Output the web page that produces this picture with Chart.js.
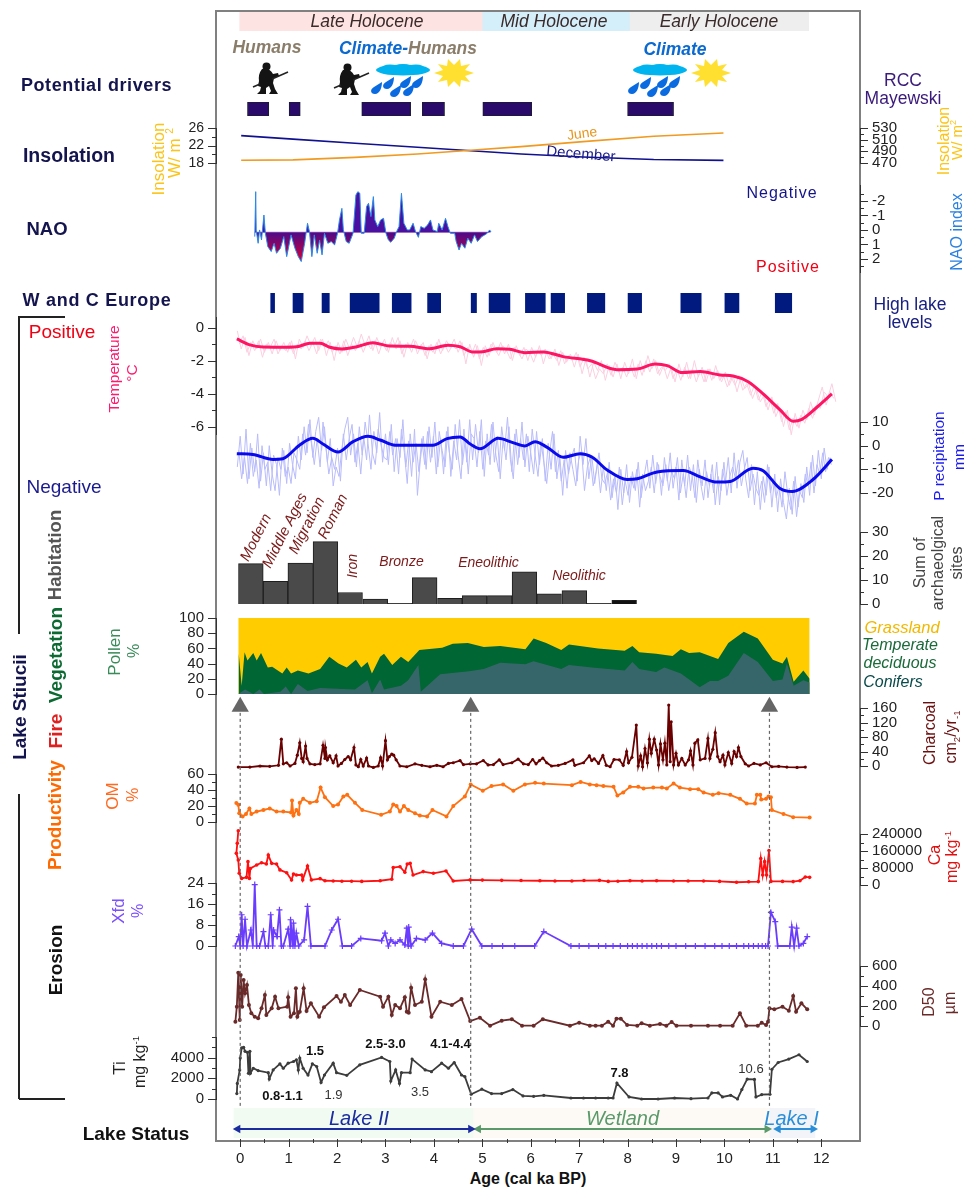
<!DOCTYPE html>
<html>
<head>
<meta charset="utf-8">
<title>Lake Stiucii proxy record</title>
<script src="https://cdn.jsdelivr.net/npm/chart.js@4/dist/chart.umd.min.js"></script>
<style>
  html, body { margin: 0; padding: 0; background: #fff; }
  #page { position: relative; width: 966px; height: 1187px; overflow: hidden; font-family: "Liberation Sans", Arial, sans-serif; }
  #page canvas { position: absolute; left: 0; }
  #frame { position: absolute; left: 215px; top: 10px; width: 642px; height: 1128px; border: 2px solid #808080; }
  .txt { position: absolute; white-space: nowrap; line-height: 1; transform-origin: center; }
  .rule { position: absolute; background: #222; }
  sup { font-size: 60%; line-height: 0; }
</style>
</head>
<body>
<div id="page">
  <div id="frame"></div>
  <div class="rule" style="left:19px;top:316px;width:46px;height:2px"></div>
  <div class="rule" style="left:18px;top:316px;width:2px;height:318px"></div>
  <div class="rule" style="left:18px;top:794px;width:2px;height:305px"></div>
  <div class="rule" style="left:19px;top:1098px;width:46px;height:2px"></div>
  <svg style="position:absolute;left:0;top:0;z-index:3" width="966" height="110">
    <defs>
      <g id="hunter">
        <circle cx="9.5" cy="4.5" r="4" fill="#141414"/>
        <path fill="#141414" d="M5 7 Q1 12 2 19 L1 24 L4 25 L3 29 L0 32 L9 32 L9 26 L12 24 L14 29 L12 32 L21 32 L18 27 L16 21 L17 16 L22 14 L21 11 L16 12 Q13 6 5 7 Z"/>
        <line x1="-4" y1="25" x2="3" y2="22" stroke="#222" stroke-width="1.6"/>
        <line x1="15" y1="17" x2="31" y2="10" stroke="#222" stroke-width="1.6"/>
      </g>
      <path id="drop" fill="#0a6ae0" d="M6 -6 C6 -1 4 6 -1 6 C-6 6 -6 1 -2 -1 Z"/>
      <g id="rain">
        <ellipse cx="0" cy="0" rx="27" ry="5.5" fill="#00b4f0"/>
        <ellipse cx="-13" cy="-1" rx="9" ry="4.5" fill="#00b4f0"/>
        <ellipse cx="0" cy="-1.5" rx="10" ry="4.5" fill="#00b4f0"/>
        <ellipse cx="13" cy="-1" rx="9" ry="4.5" fill="#00b4f0"/>
        <use href="#drop" x="-27" y="18"/><use href="#drop" x="-15" y="13"/><use href="#drop" x="-8" y="21"/>
        <use href="#drop" x="2" y="12"/><use href="#drop" x="5" y="20"/><use href="#drop" x="14" y="12"/>
      </g>
      <polygon id="sun" fill="#ffe030" points="20,0 11,3 16,9 7,7 6,14 0,8 -6,14 -7,7 -16,9 -11,3 -20,0 -11,-3 -16,-9 -7,-7 -6,-14 0,-8 6,-14 7,-7 16,-9 11,-3"/>
    </defs>
    <use href="#hunter" x="257" y="62"/>
    <use href="#hunter" x="338" y="63"/>
    <use href="#rain" x="403" y="70"/>
    <use href="#sun" x="454" y="73"/>
    <use href="#rain" x="660" y="70"/>
    <use href="#sun" x="711" y="73"/>
  </svg>
</div>

<script>
// ---- Holocene periods and event bars (ka BP) ----
const holoceneNames = ['Late Holocene', 'Mid Holocene', 'Early Holocene'];
const holoceneStart = [-0.01, 5.01, 8.05];
const holoceneEnd = [5.01, 8.05, 11.74];
const rccStart = [0.15, 1.01, 2.51, 3.76, 5.01, 8.0];
const rccEnd = [0.59, 1.24, 3.52, 4.22, 6.02, 8.95];
const lakeHighStart = [0.63, 1.09, 1.69, 2.27, 3.14, 3.87, 4.77, 5.14, 5.89, 6.42, 7.17, 8.01, 9.1, 10.01, 11.05];
const lakeHighEnd = [0.71, 1.3, 1.84, 2.87, 3.53, 4.14, 4.88, 5.57, 6.3, 6.7, 7.53, 8.29, 9.52, 10.3, 11.39];
const statusStart = [-0.13, 4.82, 10.94];
const statusEnd = [4.82, 10.94, 11.87];

// ---- Insolation ----
const insolAge = [0.02, 1.09, 2.37, 3.66, 4.69, 5.8, 7.08, 8.54, 9.98];
const decemberVal = [24.25, 23.45, 22.5, 21.6, 20.85, 20.05, 19.37, 18.8, 18.6];
const juneVal = [474.7, 475.4, 479.7, 485.5, 491.4, 498.1, 506.6, 515.8, 521.3];

// ---- NAO ----
const naoAge = [0.3,0.32,0.33,0.37,0.4,0.44,0.49,0.52,0.57,0.64,0.7,0.75,0.83,0.9,0.96,1.05,1.13,1.2,1.26,1.33,1.39,1.43,1.48,1.53,1.59,1.64,1.69,1.74,1.81,1.88,1.95,2.01,2.05,2.1,2.13,2.19,2.25,2.33,2.39,2.43,2.47,2.5,2.56,2.61,2.65,2.7,2.75,2.78,2.84,2.9,2.96,3.01,3.06,3.11,3.18,3.23,3.28,3.33,3.38,3.45,3.5,3.57,3.62,3.68,3.73,3.8,3.87,3.93,3.98,4.07,4.1,4.17,4.24,4.29,4.34,4.43,4.46,4.52,4.57,4.64,4.7,4.77,4.84,4.9,4.99,5.05,5.1,5.15,5.18];
const naoVal = [0.46,-2.64,0,0.92,0,0.69,-1.03,0.23,1.15,1.49,0.92,1.61,1.26,0.46,1.84,0.34,1.26,1.84,2.18,0.92,-0.46,0.11,1.84,0.34,1.61,0.69,1.72,0.23,0.92,0.8,1.03,0.23,-0.69,-1.49,0,0.8,0.92,0.23,-2.41,-2.64,-2.53,0.23,0.23,-1.61,-1.84,-0.92,-2.3,-0.69,-0.23,-0.69,-0.8,0.23,0.69,0.85,0.57,0.11,-0.23,-2.53,-0.46,0,0,-0.46,0.11,0.51,-0.23,-0.11,-0.34,-0.69,0,0.11,-0.46,0,-0.8,-0.23,0.23,0.23,0.8,1.38,0.92,1.26,0.57,0.92,0.34,0.8,0.46,0.34,0.23,0,0.14];
const naoBase = 0.16;

// ---- Temperature and precipitation ----
const tempAge = [-0.07,0.2,0.47,0.82,1.17,1.44,1.65,1.85,2.1,2.41,2.74,3.09,3.5,3.91,4.29,4.54,4.81,5.01,5.3,5.57,5.88,6.26,6.67,7.23,7.78,8.2,8.57,8.82,9.13,9.5,9.91,10.18,10.49,10.8,11.15,11.42,11.6,11.91,12.22];
const tempVal = [-0.69,-1.05,-1.18,-1.19,-1.16,-0.95,-0.95,-1.19,-1.3,-1.16,-0.92,-1.12,-1.13,-1.28,-1.07,-1.16,-1.48,-1.46,-1.28,-1.32,-1.52,-1.48,-1.76,-2.01,-2.55,-2.51,-2.21,-2.31,-2.73,-2.67,-2.87,-2.93,-3.28,-4.02,-4.99,-5.68,-5.56,-4.83,-4.02];
const tempRawStart = -0.06, tempRawStep = 0.08;
const tempRaw = [-0.2,-1.3,-0.6,-1.7,-0.8,-1.3,-0.7,-1.5,-0.9,-1.6,-0.8,-1.4,-0.9,
  -1.5,-0.8,-1.9,-0.7,-1.2,-0.5,-1.1,-0.6,-1.4,-0.7,-1.7,-0.9,
  -2.0,-0.9,-1.5,-0.7,-1.3,-0.6,-1.2,-0.4,-1.1,-0.5,-1.4,-0.6,-1.2,
  -0.7,-1.5,-0.6,-1.3,-0.8,-1.8,-0.9,-1.5,-0.8,-1.3,-0.9,-1.9,
  -1.0,-1.6,-0.7,-1.4,-0.8,-1.2,-0.7,-1.5,-0.9,-2.2,-1.0,-1.8,-1.1,
  -2.3,-1.1,-1.7,-0.9,-1.5,-0.9,-1.6,-1.0,-2.0,-1.1,-1.7,-1.2,
  -2.0,-1.2,-1.8,-1.1,-2.2,-1.4,-1.9,-1.3,-2.3,-1.5,-2.1,-1.6,-2.4,
  -1.6,-2.8,-1.9,-3.0,-2.1,-2.6,-2.0,-3.2,-2.3,-3.0,-2.2,-3.1,
  -2.1,-2.8,-1.9,-3.1,-2.0,-2.7,-1.7,-2.5,-2.0,-2.9,-2.3,-3.1,-2.4,
  -3.3,-2.2,-3.0,-2.1,-3.1,-2.0,-3.0,-2.4,-3.3,-2.5,-3.1,-2.6,
  -3.3,-2.7,-3.5,-2.9,-3.9,-3.0,-3.7,-3.4,-4.3,-3.7,-4.5,-4.1,-5.0,
  -4.2,-5.4,-4.8,-6.0,-5.0,-6.5,-5.2,-6.1,-5.0,-5.6,-4.5,-5.3,
  -4.4,-3.6,-4.7,-3.9,-4.3];
// the raw record is denser than one zigzag, second pass sits between the points above
const tempRawB = [-1.0,-0.5,-1.5,-0.9,-1.4,-0.8,-1.8,-1.0,-1.2,-0.7,-1.6,-1.1,-1.4,
  -0.9,-1.6,-1.0,-1.3,-0.8,-1.4,-0.9,-1.6,-0.7,-1.2,-0.8,-1.5,
  -1.1,-1.6,-0.8,-1.7,-1.0,-1.4,-0.8,-1.5,-0.9,-1.3,-0.8,-1.6,-0.9,
  -1.4,-0.9,-1.2,-0.6,-1.6,-1.0,-1.3,-0.7,-1.6,-1.0,-1.7,-1.1,
  -1.5,-0.9,-1.6,-1.0,-1.5,-1.1,-1.3,-0.8,-1.7,-1.2,-1.6,-1.0,-1.9,
  -1.2,-1.8,-1.0,-1.3,-1.7,-1.1,-1.4,-1.9,-1.2,-1.5,-1.9,-1.3,
  -1.5,-2.1,-1.4,-1.7,-1.3,-1.9,-1.6,-2.0,-1.4,-2.2,-1.7,-2.0,-1.5,
  -2.4,-1.8,-2.5,-2.2,-3.1,-2.5,-2.8,-2.2,-2.9,-2.1,-2.7,-2.4,
  -3.0,-2.3,-3.0,-2.2,-2.9,-2.0,-2.7,-1.9,-2.8,-2.4,-2.6,-2.2,-3.1,
  -2.5,-3.2,-2.4,-3.1,-2.5,-3.3,-2.6,-3.3,-2.5,-3.2,-2.3,-3.2,
  -2.9,-3.6,-3.0,-3.5,-2.9,-3.8,-3.4,-4.1,-3.5,-4.4,-3.9,-4.8,-4.3,
  -5.2,-4.6,-5.7,-5.1,-6.2,-5.5,-6.0,-5.3,-5.8,-4.9,-5.5,-4.7,
  -4.9,-3.9,-4.2,-3.4,-4.5];
const precipAge = [-0.07,0.26,0.68,0.88,1.23,1.5,1.71,2.02,2.33,2.64,2.89,3.2,3.98,4.27,4.54,4.75,4.95,5.33,5.63,5.88,6.09,6.34,6.67,7.02,7.27,7.58,7.99,8.2,8.61,9.15,9.5,9.85,10.12,10.59,10.8,11.15,11.4,11.83,12.22];
const precipVal = [-3.4,-3.7,-5.8,-5.5,0.3,3.1,0.7,-2.7,1.7,4,2.4,0.2,0.2,3,3.7,0.7,-1.3,3.1,1.3,-0.1,1.7,-0.7,-4.9,-3.4,-4.9,-10.3,-14.3,-14,-11.1,-10.5,-13.2,-15.4,-15.1,-9.5,-10.6,-18.1,-19.4,-14.3,-5.8];
const precipRawStart = -0.06, precipRawStep = 0.06;
const precipRaw = [-9,4,-12,7,-14,-1,-11,5,-15,-3,-17,0,-12,
  -19,-5,-10,-2,-16,1,-8,-14,
  4,-6,8,-3,11,-5,6,12,-2,8,
  -7,3,-17,-9,-13,-1,
  7,12,-4,5,-9,8,-4,10,1,-10,6,-3,14,-7,
  5,-8,9,-11,3,-5,11,-9,2,-13,7,-21,-6,4,-10,
  8,-5,10,-9,3,-12,6,-3,-10,9,-4,-14,7,-7,11,
  -6,9,-3,11,-13,5,-8,10,-4,-11,8,-2,12,-6,-14,
  7,-5,10,-9,4,-3,-12,6,-8,3,-15,1,-10,5,-14,
  -4,-21,-2,-12,-5,-1,-15,4,-8,3,-14,-4,-16,-7,-20,
  -9,-19,-7,-22,-12,-27,-10,-20,-8,-24,-11,-19,-7,-22,-13,
  -6,-18,-4,-16,-8,-21,-5,-15,-3,-18,-9,-23,-6,-17,-4,
  -19,-8,-24,-10,-17,-6,-22,-12,-20,-7,-25,-10,-16,-5,-20,
  -3,-18,-7,-2,-14,-22,-8,-25,-11,-27,-13,-21,-9,-26,-12,
  -28,-14,-24,-31,-18,-29,-13,-26,-16,-24,
  -9,-21,-4,-17,-2,-14,-1,-10,-5];
const precipRawB = [-2,-14,-5,-16,1,-13,-6,-18,0,-10,-7,-19,-4,
  -8,-21,-1,-13,-9,-16,-3,-6,
  -10,5,-4,9,1,-8,3,-9,10,-1,
  -12,-5,-10,-1,-15,5,
  -6,3,9,-7,1,-12,4,-6,13,-3,-8,7,0,-5,
  -6,6,-4,3,-12,7,-3,-16,5,-7,1,-11,3,-8,6,
  -7,4,-12,6,-2,-9,8,-13,2,-6,11,-8,3,-12,5,
  3,-9,6,-10,2,-4,9,-7,4,-14,3,-6,8,-11,5,
  -8,3,-6,5,-11,7,-4,-13,2,-7,-16,-3,6,-11,-2,
  -15,-6,-18,-3,-10,-17,-6,-2,-19,-9,-5,-17,-11,-3,-14,
  -16,-11,-23,-14,-20,-9,-25,-15,-21,-13,-18,-10,-26,-12,-19,
  -15,-9,-20,-7,-13,-17,-8,-19,-11,-14,-5,-20,-12,-22,-9,
  -12,-22,-6,-16,-23,-11,-17,-8,-25,-13,-19,-7,-21,-13,-9,
  -14,-6,-17,-10,-5,-19,-12,-18,-21,-15,-24,-8,-20,-14,-22,
  -17,-26,-11,-21,-27,-15,-30,-19,-22,-12,
  -17,-7,-20,-8,-12,-3,-11,-5,-8];

// ---- Archaeological sites ----
const siteAge = [0.22,0.73,1.24,1.76,2.27,2.79,3.3,3.81,4.33,4.84,5.36,5.87,6.38,6.9,7.41,7.93];
const siteVal = [16.8,9.4,17,26,4.8,2,0.3,11,2.4,3.5,3.5,13.4,4.2,5.6,0.3,1.5];

// ---- Pollen ----
const grassAge = [-0.04, 11.76];
const grassVal = [100, 100];
const decidAge = [-0.04,-0.03,0.03,0.09,0.15,0.27,0.34,0.43,0.57,0.66,0.87,0.96,1.05,1.19,1.41,1.65,1.84,2.03,2.2,2.39,2.5,2.63,2.72,2.89,2.97,3.14,3.32,3.47,3.7,4.17,4.39,4.7,5.03,5.37,5.89,6.06,6.32,6.63,6.79,7.39,7.94,8.1,8.24,8.59,8.93,9.1,9.27,9.49,9.87,10.08,10.4,10.69,11,11.2,11.29,11.43,11.63,11.76];
const decidVal = [0,53,11,55,44,54,44,54,35,36,27,35,27,31,27,33,49,40,35,45,35,42,27,49,53,38,49,42,58,61,66,67,62,63,59,73,67,58,65,60,57,63,55,53,50,59,54,55,46,67,82,73,45,40,49,16,31,20];
const coniferAge = [-0.04,0.1,0.27,0.4,0.49,0.83,0.94,1.05,1.19,1.39,1.65,1.99,2.37,2.63,2.72,2.89,2.97,3.32,3.47,3.68,3.73,4.13,4.73,5.03,5.37,5.89,6.06,6.63,6.79,7.26,7.94,8.1,8.24,8.59,8.76,9.1,9.49,9.7,9.87,10.08,10.4,10.69,11,11.2,11.29,11.43,11.63,11.76];
const coniferVal = [0,6,0,6,0,3,10,0,13,4,8,7,6,18,1,19,6,11,18,38,3,26,30,33,41,39,43,33,38,35,31,42,33,29,35,27,9,17,17,24,54,42,17,19,40,11,18,15];

// ---- Charcoal ----
const charcoalAge = [-0.04,0.2,0.41,0.61,0.79,0.85,0.89,0.96,1.03,1.13,1.18,1.23,1.27,1.3,1.35,1.38,1.44,1.54,1.65,1.71,1.75,1.76,1.8,1.85,1.92,1.98,2.02,2.09,2.16,2.23,2.28,2.35,2.39,2.44,2.49,2.54,2.61,2.65,2.75,2.85,2.9,2.94,3,3.04,3.08,3.13,3.17,3.22,3.3,3.44,3.61,3.75,3.92,4.06,4.19,4.3,4.4,4.54,4.61,4.75,4.88,5.02,5.12,5.23,5.35,5.43,5.61,5.74,5.85,5.95,6.04,6.11,6.18,6.25,6.33,6.43,6.57,6.71,6.87,6.91,7.09,7.21,7.26,7.31,7.4,7.49,7.56,7.64,7.72,7.83,7.91,7.98,8.02,8.09,8.18,8.22,8.27,8.31,8.36,8.41,8.45,8.49,8.55,8.6,8.64,8.68,8.73,8.77,8.81,8.85,8.88,8.9,8.95,9,9.05,9.12,9.19,9.26,9.3,9.35,9.39,9.45,9.5,9.6,9.66,9.7,9.76,9.81,9.86,9.91,9.97,10.01,10.08,10.15,10.2,10.25,10.29,10.34,10.43,10.5,10.61,10.74,10.86,10.98,11.12,11.29,11.5,11.67];
const charcoalVal = [-3,-3,0,-1,2,74,6,9,0,7,30,64,21,12,55,21,6,4,6,57,21,51,17,28,9,28,0,7,18,26,17,51,3,-2,18,0,22,0,-4,0,23,0,70,17,26,33,30,17,0,-2,6,2,-2,2,-2,7,9,15,4,6,6,15,3,4,17,4,9,19,6,4,18,6,15,22,9,0,2,7,17,2,9,28,15,20,7,29,2,-2,18,17,2,40,9,24,113,0,28,-2,48,9,74,35,74,44,3,61,17,63,3,168,12,122,3,35,3,21,3,17,42,3,63,72,17,21,76,21,46,92,26,12,30,3,37,7,40,26,51,26,6,0,7,3,9,-2,-1,-3,-4,-3];

// ---- Organic matter ----
const omAge = [-0.08,-0.04,-0.02,0.05,0.12,0.19,0.23,0.34,0.48,0.61,0.75,0.89,1.05,1.07,1.1,1.16,1.21,1.23,1.3,1.44,1.58,1.66,1.75,1.92,2.02,2.13,2.21,2.37,2.52,2.91,3.09,3.16,3.23,3.3,3.38,3.47,3.61,3.71,3.86,3.97,4.26,4.4,4.64,4.76,5.01,5.19,5.43,5.64,5.88,6.09,6.27,6.85,7.03,7.22,7.36,7.5,7.71,7.79,7.91,8.05,8.22,8.33,8.53,8.71,8.81,8.95,9.08,9.29,9.46,9.57,9.76,9.88,10.12,10.32,10.46,10.63,10.67,10.74,10.76,10.86,10.91,10.96,10.98,11.22,11.42,11.76];
const omVal = [23.6,21.6,11,7,10,17,10,13,15,17,13,13,12,27,8,15,10,24,29,24,26,43,31,20,22,32,34,24,15,9,13,22,20,13,20,15,11,8,7,15,7,20,32,47,39,45,47,39,47,49,48,46,50,47,46,45,44,33,37,44,44,42,43,43,42,48,43,41,41,37,34,36,34,29,23,23,34,34,28,29,32,31,15,10,6,5.5];

// ---- Calcium ----
const caAge = [-0.04,-0.06,-0.08,-0.04,-0.02,0.03,0.13,0.16,0.19,0.21,0.34,0.44,0.54,0.58,0.65,0.75,0.82,0.96,1.06,1.1,1.16,1.27,1.29,1.39,1.47,1.65,1.75,1.92,2.1,2.3,2.51,2.89,3.13,3.16,3.3,3.4,3.45,3.51,3.57,3.78,3.99,4.25,4.4,4.75,5,5.4,5.8,6.19,6.5,6.85,7.1,7.42,7.6,7.8,8.05,8.3,8.6,8.95,9.25,9.57,9.9,10.25,10.5,10.7,10.75,10.79,10.83,10.87,10.92,10.96,11.2,11.42,11.56,11.67,11.76];
const caVal = [255000,196000,149000,117600,55000,31000,36000,110000,31000,78000,94000,105000,99000,141000,102000,99000,71000,58000,24000,52000,47000,47000,24000,89000,24000,30000,20000,19000,18000,18000,17000,20000,27000,82000,86000,60000,99000,102000,47000,63000,55000,66000,19000,24000,23000,22000,21000,20000,19000,19000,21000,22000,17000,18000,20000,19000,20000,19000,19000,19000,17000,13000,15000,16000,125000,47000,110000,47000,162000,17000,17000,16000,20000,38000,36000];

// ---- Frequency-dependent susceptibility ----
const xfdAge = [-0.1,-0.03,0,0.03,0.06,0.1,0.14,0.22,0.26,0.3,0.34,0.4,0.48,0.52,0.58,0.63,0.67,0.69,0.76,0.81,0.85,0.89,0.99,1.03,1.04,1.09,1.1,1.13,1.16,1.21,1.32,1.39,1.46,1.75,1.89,2.02,2.11,2.3,2.49,2.92,2.99,3.06,3.11,3.2,3.3,3.4,3.44,3.47,3.48,3.53,3.64,3.82,3.97,4.16,4.4,4.61,4.78,4.99,5.2,5.42,5.67,6.08,6.27,6.83,7,7.2,7.4,7.55,7.7,7.85,8,8.1,8.2,8.3,8.4,8.5,8.6,8.7,8.85,9,9.2,9.4,9.6,9.8,9.95,10.1,10.25,10.4,10.5,10.6,10.7,10.78,10.85,10.9,10.96,11.05,11.1,11.35,11.39,11.44,11.49,11.54,11.63,11.71];
const xfdVal = [0,3.6,0,11.9,0,10.2,0,6.1,0,23.4,0,0,5.5,0,0,11.9,0,6.1,3.6,13.8,0,0,6.4,0,10,0,8.7,0,4.9,0,2.3,15.1,0,0,6.1,10.2,0,0,2.9,2,4.9,0,2.3,1,2.3,0.4,6.8,0,7.2,0,2.9,2.3,4.9,1,0,0,6.4,0,0,0,0,0,5.5,0,0,0,0,0,0,0,0,0,0,0,0,0,0,0,0,0,0,0,0,0,0,0,0,0,0,0,0,0,0,0,12.8,9.3,0,0,7.2,0,6.8,0,1,3.6];

// ---- Grain size ----
const d50Age = [-0.1,-0.07,-0.04,-0.01,0,0.01,0.04,0.07,0.1,0.14,0.18,0.23,0.3,0.37,0.44,0.51,0.54,0.65,0.72,0.79,0.97,0.99,1.04,1.11,1.15,1.18,1.23,1.31,1.37,1.46,1.63,1.73,1.99,2.08,2.16,2.27,2.47,2.89,2.95,3.06,3.13,3.2,3.3,3.4,3.44,3.48,3.53,3.61,3.75,3.82,3.95,4.13,4.37,4.57,4.75,4.95,5.16,5.4,5.61,5.82,6.06,6.25,6.81,7,7.22,7.34,7.47,7.6,7.7,7.77,7.86,7.99,8.2,8.29,8.46,8.67,8.8,8.91,9.01,9.31,9.66,9.91,10.17,10.32,10.45,10.69,10.77,10.86,10.9,10.93,11.03,11.2,11.33,11.42,11.48,11.59,11.71];
const d50Val = [43,193,533,60,393,510,193,460,327,410,210,127,93,77,177,310,110,177,293,177,193,287,93,127,377,93,143,377,150,227,93,187,300,243,310,210,360,293,193,293,110,210,177,287,143,133,383,210,243,467,93,243,210,270,50,83,3,53,67,3,3,67,3,33,3,3,3,43,3,73,73,10,3,27,3,20,3,40,3,3,3,3,3,127,3,3,33,10,43,177,167,193,153,300,143,227,167];

// ---- Titanium ----
const tiAge = [-0.07,-0.06,-0.01,0,0.03,0.07,0.1,0.15,0.17,0.2,0.21,0.27,0.37,0.58,0.6,0.68,0.82,0.89,0.99,1.1,1.16,1.2,1.23,1.3,1.4,1.49,1.58,1.67,1.74,1.92,1.99,2.2,2.47,2.92,3.09,3.11,3.21,3.29,3.33,3.51,3.55,3.82,3.95,4.16,4.3,4.42,4.57,4.64,4.77,4.99,5.19,5.4,5.63,5.84,6.06,6.27,6.83,7.09,7.34,7.6,7.7,7.78,8.03,8.29,8.63,8.97,9.31,9.66,9.74,9.87,9.96,10.13,10.27,10.36,10.47,10.62,10.65,10.77,10.94,10.98,11.11,11.33,11.54,11.71];
const tiVal = [523,1504,2812,3957,4938,5003,4611,4513,2485,4611,2485,2976,2747,2551,1929,2812,3401,2976,3466,3630,3793,2812,3957,2976,2322,3401,3139,1602,2322,3466,2551,2289,3303,4022,3630,1733,2812,1504,2551,2551,3859,2812,2649,3466,2976,3532,2322,2158,458,948,523,523,916,294,262,360,98,98,98,98,98,1537,196,0,0,98,33,98,589,589,196,360,0,916,1929,1897,196,425,458,2878,3532,3859,4284,3630];

// ---- Tick labels and minor ticks ----
const insolLeftLabels = [18, 22, 26], insolLeftMinor = [20, 24];
const insolRightLabels = [470, 490, 510, 530], insolRightMinor = [480, 500, 520];
const naoLabels = [-2, -1, 0, 1, 2], naoMinor = [-2.5, -1.5, -0.5, 0.5, 1.5, 2.5];
const tempLabels = [0, -2, -4, -6], tempMinor = [-1, -3, -5];
const precipLabels = [10, 0, -10, -20], precipMinor = [5, -5, -15];
const siteLabels = [0, 10, 20, 30], siteMinor = [5, 15, 25];
const pollenLabels = [0, 20, 40, 60, 80, 100];
const charcoalLabels = [0, 40, 80, 120, 160], charcoalMinor = [20, 60, 100, 140];
const omLabels = [0, 20, 40, 60], omMinor = [10, 30, 50];
const caLabels = [0, 80000, 160000, 240000], caMinor = [40000, 120000, 200000];
const xfdLabels = [0, 8, 16, 24], xfdMinor = [4, 12, 20];
const d50Labels = [0, 200, 400, 600], d50Minor = [100, 300, 500];
const tiLabels = [0, 2000, 4000], tiMinor = [1000, 3000, 5000, 6000];
const ageLabels = [0, 1, 2, 3, 4, 5, 6, 7, 8, 9, 10, 11, 12];
const ageMinor = [0.5, 1.5, 2.5, 3.5, 4.5, 5.5, 6.5, 7.5, 8.5, 9.5, 10.5, 11.5];

// ---- Dashed transition markers ----
const transitionAges = [0, 4.76, 10.93];

// ---- Lake status arrows ----
const arrowStart = [-0.05, 4.92, 11.11];
const arrowEnd = [4.76, 10.88, 11.83];

// helpers
const page = document.getElementById('page');
const xMin = -0.5, xMax = 12.8;

const zip = (xs, ys) => xs.map((x, i) => ({ x, y: ys[i] }));
const rawAges = (start, step, n) => Array.from({ length: n }, (_, i) => start + i * step);

// draws tick marks by hand since Chart.js can't do short minor ticks
const tickMarks = {
    id: 'tickMarks',
    afterDraw(chart) {
        const ctx = chart.ctx;
        ctx.save();
        ctx.strokeStyle = '#333';
        ctx.lineWidth = 1;
        Object.values(chart.scales).forEach(s => {
            if (!s.options.display) return;
            s.ticks.forEach(t => {
                const len = t.major ? 8 : 4;
                const p = Math.round(s.getPixelForValue(t.value)) + 0.5;
                ctx.beginPath();
                if (s.axis === 'x') { ctx.moveTo(p, s.top); ctx.lineTo(p, s.top + len); }
                else if (s.position === 'left') { ctx.moveTo(s.right, p); ctx.lineTo(s.right - len, p); }
                else { ctx.moveTo(s.left, p); ctx.lineTo(s.left + len, p); }
                ctx.stroke();
            });
        });
        ctx.restore();
    }
};

function axis(position, min, max, labels, minor, size) {
    const fit = position === 'left' ? 55 : 70;
    return {
        type: 'linear', position, min, max,
        grid: { display: false, drawTicks: false },
        border: { display: true, color: '#333', width: 1 },
        ticks: {
            autoSkip: false, padding: 12, color: '#222',
            font: { family: 'Liberation Sans', size: size || 15 },
            callback: (v, i, ticks) => ticks[i].major ? String(v) : ''
        },
        afterFit: s => { s.width = fit; },
        afterBuildTicks: s => {
            s.ticks = labels.map(value => ({ value, major: true }))
                .concat(minor.map(value => ({ value, major: false })))
                .sort((a, b) => a.value - b.value);
        }
    };
}
const hiddenY = () => ({ type: 'linear', min: 0, max: 1, display: false });
const bandY = () => ({ type: 'category', labels: ['band'], display: false, offset: true });

function addPanel(top, bottom, datasets, yScales, opts) {
    opts = opts || {};
    const pad = opts.pad === undefined ? 30 : opts.pad;
    const canvas = document.createElement('canvas');
    canvas.width = 966;
    canvas.height = bottom - top + pad * 2;
    canvas.style.top = (top - pad) + 'px';
    canvas.style.zIndex = opts.z || 1;
    page.appendChild(canvas);

    const sides = Object.values(yScales).filter(s => s.display !== false).map(s => s.position);
    const xScale = opts.x || { type: 'linear', min: xMin, max: xMax, display: false, offset: false };

    new Chart(canvas, {
        type: opts.type || 'line',
        data: { labels: opts.labels, datasets },
        options: {
            responsive: false,
            animation: false,
            events: [],
            indexAxis: opts.indexAxis || 'x',
            layout: {
                autoPadding: false,
                padding: {
                    left: sides.includes('left') ? 161 : 216,
                    right: sides.includes('right') ? 36 : 106,
                    top: pad,
                    bottom: opts.x ? 0 : pad
                }
            },
            plugins: { legend: { display: false }, tooltip: { enabled: false }, title: { display: false } },
            scales: Object.assign({ x: xScale }, yScales)
        },
        plugins: [tickMarks]
    });
    return canvas;
}

const bands = (starts, ends, color, extra) => Object.assign({
    data: starts.map((s, i) => ({ x: [s, ends[i]], y: 'band' })),
    backgroundColor: color, barPercentage: 1, categoryPercentage: 1, borderSkipped: false
}, extra);

const plainLine = (xs, ys, color, width, extra) => Object.assign({
    data: zip(xs, ys), borderColor: color, backgroundColor: color, borderWidth: width,
    pointRadius: 0, clip: false
}, extra);

const markedLine = (xs, ys, color, radius, extra) => Object.assign({
    data: zip(xs, ys), borderColor: color, backgroundColor: color, borderWidth: 1.8,
    pointRadius: radius, pointBorderWidth: 0, pointBackgroundColor: color, clip: false
}, extra);

// holocene bands
addPanel(12, 31, [bands(holoceneStart, holoceneEnd, ['#fde3e1', '#d4eefa', '#eeeeee'])], { y: bandY() },
    { type: 'bar', indexAxis: 'y', pad: 2 });
// RCC bars
addPanel(102, 116, [bands(rccStart, rccEnd, '#2a0a6a', { borderColor: '#1c1c30', borderWidth: 1 })], { y: bandY() },
    { type: 'bar', indexAxis: 'y', pad: 2 });
// insolation
addPanel(122, 169, [
    plainLine(insolAge, juneVal, '#f09a20', 1.6, { yAxisID: 'yR' }),
    plainLine(insolAge, decemberVal, '#101090', 1.6, { yAxisID: 'yL' })
], {
    yL: axis('left', 18, 26, insolLeftLabels, insolLeftMinor, 14),
    yR: axis('right', 470, 530, insolRightLabels, insolRightMinor)
}, { pad: 15 });

// NAO, gradient runs in canvas pixels, baseline to deepest dip
const naoScale = axis('right', -3.1, 2.9, naoLabels, naoMinor);
naoScale.reverse = true;
const naoCtx = document.createElement('canvas').getContext('2d');
const naoBelow = naoCtx.createLinearGradient(0, 77, 0, 107);
naoBelow.addColorStop(0, '#4a0a8a');
naoBelow.addColorStop(1, '#e00030');
addPanel(185, 272, [
    plainLine(naoAge, naoVal, '#2a88e8', 1, { fill: { target: { value: naoBase }, above: '#4a10a0', below: naoBelow } }),
    plainLine([0.3, 5.15], [naoBase, naoBase], '#a868c8', 1)
], { y: naoScale });

// high lake levels
addPanel(293, 313, [bands(lakeHighStart, lakeHighEnd, '#001a80')], { y: bandY() }, { type: 'bar', indexAxis: 'y', pad: 2 });

// temperature
addPanel(317, 434, [
    plainLine(tempAge, tempVal, '#ff1464', 3, { cubicInterpolationMode: 'monotone' }),
    plainLine(rawAges(tempRawStart, tempRawStep, tempRaw.length), tempRaw, '#fbcfe0', 1),
    plainLine(rawAges(tempRawStart + 0.04, tempRawStep, tempRawB.length), tempRawB, '#fbcfe0', 1)
], { y: axis('left', -6.45, 0.64, tempLabels, tempMinor) }, { pad: 30 });

// precipitation
addPanel(422, 493, [
    plainLine(precipAge, precipVal, '#0a0aee', 3, { cubicInterpolationMode: 'monotone' }),
    plainLine(rawAges(precipRawStart, precipRawStep, precipRaw.length), precipRaw, '#b9bcfa', 1),
    plainLine(rawAges(precipRawStart + 0.03, precipRawStep, precipRawB.length), precipRawB, '#b9bcfa', 1)
], { y: axis('right', -20, 10, precipLabels, precipMinor) }, { pad: 30 });

// archaeological sites
addPanel(532, 604, [{
    data: zip(siteAge, siteVal),
    backgroundColor: siteAge.map((a, i) => i === siteAge.length - 1 ? '#111' : '#4a4a4a'),
    borderColor: '#1e1e1e', borderWidth: 1, barPercentage: 1, categoryPercentage: 1
}], { y: axis('right', 0, 30, siteLabels, siteMinor) }, { type: 'bar' });

// pollen, first dataset paints on top
addPanel(618, 694, [
    plainLine(coniferAge, coniferVal, 'rgba(0,0,0,0)', 0, { backgroundColor: '#37666a', fill: 'origin' }),
    plainLine(decidAge, decidVal, 'rgba(0,0,0,0)', 0, { backgroundColor: '#006633', fill: 'origin' }),
    plainLine(grassAge, grassVal, 'rgba(0,0,0,0)', 0, { backgroundColor: '#ffcc00', fill: 'origin' })
], { y: axis('left', 0, 100, pollenLabels, []) });

// charcoal
addPanel(708, 766, [markedLine(charcoalAge, charcoalVal, '#6a0000', 1.6)],
    { y: axis('right', 0, 160, charcoalLabels, charcoalMinor) });
// OM
addPanel(774, 822, [markedLine(omAge, omVal, '#ff7010', 2)],
    { y: axis('left', 0, 60, omLabels, omMinor) });
// Ca
addPanel(834, 885, [markedLine(caAge, caVal, '#ff1010', 1.8)],
    { y: axis('right', 0, 240000, caLabels, caMinor) });
// Xfd
addPanel(883, 946, [markedLine(xfdAge, xfdVal, '#6a3cff', 3, { pointStyle: 'cross', pointBorderWidth: 1.2, pointBorderColor: '#6a3cff' })],
    { y: axis('left', 0, 24, xfdLabels, xfdMinor) });
// D50
addPanel(966, 1026, [markedLine(d50Age, d50Val, '#6a2a2a', 2)],
    { y: axis('right', 0, 600, d50Labels, d50Minor) });
// Ti
addPanel(1037, 1099, [markedLine(tiAge, tiVal, '#3c3c3c', 1.6)],
    { y: axis('left', 0, 6000, tiLabels, tiMinor) });

// lake status bands and arrows
addPanel(1108, 1138, [bands(statusStart, statusEnd, ['#f2fbf2', '#fdfaf5', '#f2f4f9'])], { y: bandY() },
    { type: 'bar', indexAxis: 'y', pad: 1 });
const arrowColors = ['#1a2ca0', '#5a9a6a', '#2a8fd8'];
addPanel(1108, 1138, arrowColors.map((color, i) => plainLine([arrowStart[i], arrowEnd[i]], [0.3, 0.3], color, 2, {
    pointStyle: 'triangle', pointRotation: [-90, 90], pointRadius: 5, pointBackgroundColor: color, pointBorderWidth: 0
})), { y: hiddenY() }, { pad: 4, z: 2 });

// dashed markers from the triangles down
addPanel(697, 1108, transitionAges.map(a => plainLine([a, a], [0.976, 0], '#666', 1.2, {
    borderDash: [3, 3], pointStyle: 'triangle', pointRadius: [10, 0], pointBackgroundColor: '#666', pointBorderWidth: 0
})), { y: hiddenY() }, { pad: 4, z: 2 });

// age axis along the bottom of the frame
addPanel(1135, 1139, [], { y: hiddenY() }, {
    pad: 30,
    x: {
        type: 'linear', min: xMin, max: xMax, position: 'bottom', offset: false,
        grid: { display: false, drawTicks: false },
        border: { display: false },
        ticks: {
            autoSkip: false, maxRotation: 0, padding: 11, color: '#222',
            font: { family: 'Liberation Sans', size: 15 },
            callback: (v, i, ticks) => ticks[i].major ? String(v) : ''
        },
        afterFit: s => { s.height = 30; },
        afterBuildTicks: s => {
            s.ticks = ageLabels.map(value => ({ value, major: true }))
                .concat(ageMinor.map(value => ({ value, major: false })))
                .sort((a, b) => a.value - b.value);
        }
    }
});

// text
function label(html, x, y, o) {
    o = o || {};
    const el = document.createElement('div');
    el.className = 'txt';
    el.innerHTML = html;
    el.style.left = x + 'px';
    el.style.top = y + 'px';
    el.style.zIndex = 4;
    el.style.fontSize = (o.s || 16) + 'px';
    el.style.color = o.c || '#222';
    if (o.b) el.style.fontWeight = 'bold';
    if (o.i) el.style.fontStyle = 'italic';
    if (o.ls) el.style.letterSpacing = o.ls + 'px';
    el.style.transform = 'translate(-50%,-50%) rotate(' + (o.r || 0) + 'deg)';
    page.appendChild(el);
}
const navy = '#14144e';

label('Potential drivers', 96.5, 85, { s: 18, b: 1, c: navy, ls: 0.6 });
label('Insolation', 69, 156, { s: 19.5, b: 1, c: navy });
label('NAO', 47, 228.5, { s: 18.5, b: 1, c: navy });
label('W and C Europe', 97, 300, { s: 18, b: 1, c: navy, ls: 0.7 });
label('Positive', 62, 331, { s: 19, c: '#f00014' });
label('Negative', 64, 486, { s: 19, c: '#1a1a90' });
label('Habitation', 55, 555, { s: 18.5, b: 1, c: '#555', r: -90 });
label('Vegetation', 55, 655, { s: 19, b: 1, c: '#0a6a32', r: -90 });
label('Fire', 55, 731, { s: 19, b: 1, c: '#e02020', r: -90 });
label('Productivity', 54, 815, { s: 19, b: 1, c: '#ff6a00', r: -90 });
label('Erosion', 55, 960, { s: 19, b: 1, c: '#111', r: -90 });
label('Lake Stiucii', 19, 707, { s: 19, b: 1, c: navy, r: -90 });
label('Lake Status', 136, 1133, { s: 19, b: 1, c: '#111' });

label('Insolation', 158, 159, { s: 17, c: '#fcc419', r: -90 });
label('W/ m <sup>2</sup>', 174, 153, { s: 17, c: '#fcc419', r: -90 });
label('Temperature', 114, 369, { s: 15.5, c: '#ff1a6e', r: -90 });
label('°C', 132, 373, { s: 15.5, c: '#ff1a6e', r: -90 });
label('Pollen', 114, 652, { s: 17, c: '#3a8a5a', r: -90 });
label('%', 134, 651, { s: 16, c: '#3a8a5a', r: -90 });
label('OM', 112, 796, { s: 17, c: '#ff6a20', r: -90 });
label('%', 133, 795, { s: 16, c: '#ff6a20', r: -90 });
label('Xfd', 118, 911, { s: 17, c: '#7a50ff', r: -90 });
label('%', 138, 911, { s: 16, c: '#7a50ff', r: -90 });
label('Ti', 119, 1068, { s: 17, c: '#222', r: -90 });
label('mg kg<sup>-1</sup>', 140, 1062, { s: 16, c: '#222', r: -90 });

label('Late Holocene', 367, 22, { s: 17.5, i: 1, c: '#3a2a2a' });
label('Mid Holocene', 554, 22, { s: 17.5, i: 1, c: '#3a2a2a' });
label('Early Holocene', 719, 22, { s: 17.5, i: 1, c: '#3a2a2a' });
label('Humans', 267, 47.5, { s: 17.5, b: 1, i: 1, c: '#8a7d6a' });
label('<span style="color:#0a6ad0">Climate-</span>Humans', 408, 48.5, { s: 17.5, b: 1, i: 1, c: '#8a7d6a' });
label('Climate', 675, 50, { s: 17.5, b: 1, i: 1, c: '#0a6ad0' });
label('June', 582, 133, { s: 14, c: '#e8961e', r: -8 });
label('December', 581, 153, { s: 15, c: '#1a1a8a', r: 5 });
label('Negative', 782, 193, { s: 16, c: '#14148a', ls: 1 });
label('Positive', 788, 266.5, { s: 16, c: '#f00014', ls: 1 });

label('RCC', 903, 81, { s: 17.5, c: '#3a1a7a' });
label('Mayewski', 903, 98.5, { s: 17.5, c: '#3a1a7a' });
label('Insolation', 944, 141, { s: 16, c: '#fcc419', r: -90 });
label('W/ m<sup>2</sup>', 956, 139.5, { s: 15, c: '#fcc419', r: -90 });
label('NAO index', 957, 232, { s: 16, c: '#2a80e0', r: -90 });
label('High lake', 910, 304.5, { s: 17.5, c: '#1a2080' });
label('levels', 910, 322.5, { s: 17.5, c: '#1a2080' });
label('P recipitation', 939, 456, { s: 15.5, c: '#1a1af0', r: -90 });
label('mm', 959, 457, { s: 15.5, c: '#1a1af0', r: -90 });
label('Sum of', 920, 563, { s: 16, c: '#444', r: -90 });
label('archaeolgical', 938, 563, { s: 16, c: '#444', r: -90 });
label('sites', 957, 563, { s: 16, c: '#444', r: -90 });
label('Grassland', 902, 627, { s: 16.5, i: 1, c: '#f2b800' });
label('Temperate', 900, 645, { s: 16, i: 1, c: '#1a6a3a' });
label('deciduous', 900, 663, { s: 16, i: 1, c: '#1a6a3a' });
label('Conifers', 893, 682, { s: 16, i: 1, c: '#0a4a4a' });
label('Charcoal', 930, 733, { s: 16, c: '#6a1010', r: -90 });
label('cm<sub style="font-size:60%">2</sub>/yr<sub style="font-size:60%">-1</sub>', 952, 737, { s: 16, c: '#6a1010', r: -90 });
label('Ca', 935, 855, { s: 16, c: '#e01010', r: -90 });
label('mg kg<sup>-1</sup>', 952, 857, { s: 16, c: '#e01010', r: -90 });
label('D50', 929, 1002, { s: 16, c: '#6a2a2a', r: -90 });
label('µm', 950, 1003, { s: 16, c: '#6a2a2a', r: -90 });

const periodColor = '#7a1a1a';
label('Modern', 255, 537, { s: 15, i: 1, c: periodColor, r: -63 });
label('Middle Ages', 284, 530, { s: 15, i: 1, c: periodColor, r: -63 });
label('Migration', 306, 525, { s: 15, i: 1, c: periodColor, r: -63 });
label('Roman', 332, 516, { s: 15, i: 1, c: periodColor, r: -63 });
label('Iron', 352, 566, { s: 14, i: 1, c: periodColor, r: -90 });
label('Bronze', 401.5, 561, { s: 14, i: 1, c: periodColor });
label('Eneolithic', 488.5, 562, { s: 14, i: 1, c: periodColor });
label('Neolithic', 579, 575, { s: 14, i: 1, c: periodColor });

label('1.5', 315, 1049.5, { s: 13, b: 1, c: '#111' });
label('2.5-3.0', 385.5, 1042.5, { s: 13, b: 1, c: '#111' });
label('4.1-4.4', 450.5, 1042.5, { s: 13, b: 1, c: '#111' });
label('0.8-1.1', 282.5, 1095, { s: 13, b: 1, c: '#111' });
label('1.9', 333.5, 1094, { s: 13, c: '#333' });
label('3.5', 420, 1090.5, { s: 13, c: '#333' });
label('7.8', 619.5, 1072, { s: 13, b: 1, c: '#111' });
label('10.6', 751, 1068, { s: 13, c: '#333' });

label('Lake II', 359, 1118, { s: 20, i: 1, c: '#1a2ca0' });
label('Wetland', 622.5, 1118, { s: 20, i: 1, c: '#5a9a6a' });
label('Lake I', 791.5, 1118, { s: 20, i: 1, c: '#2a8fd8' });
label('Age (cal ka BP)', 528, 1178.5, { s: 16, b: 1, c: '#111' });
</script>
</body>
</html>
